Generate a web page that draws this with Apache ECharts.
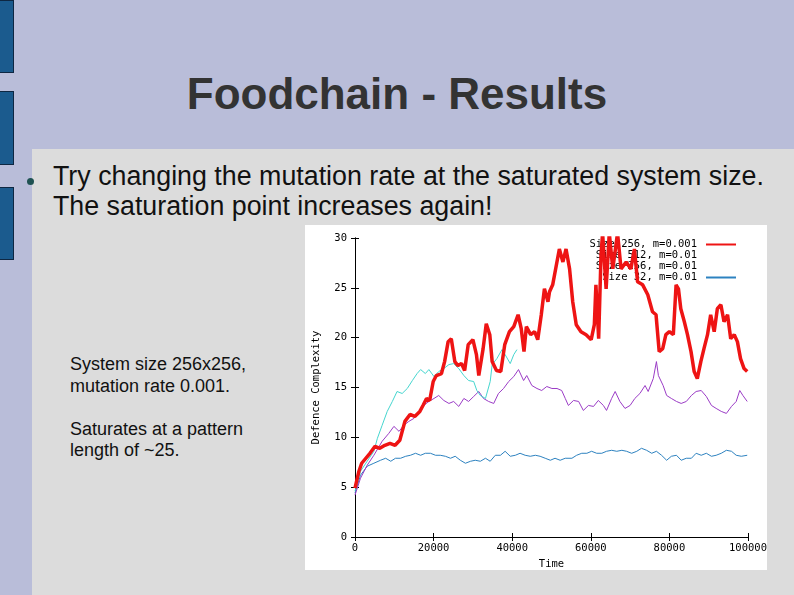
<!DOCTYPE html>
<html>
<head>
<meta charset="utf-8">
<script src="https://cdn.jsdelivr.net/npm/echarts@6/dist/echarts.min.js"></script>
<style>
  html, body { margin: 0; padding: 0; }
  body { width: 794px; height: 595px; background: #b9bdd9; position: relative; overflow: hidden;
         font-family: "Liberation Sans", Arial, sans-serif; }
  .bar { position: absolute; left: 0; width: 13px; background: #1b5b8e; border: 1px solid #0e2742; border-left: none; }
  #panel { position: absolute; left: 32px; top: 149px; right: 0; bottom: 0; background: #dcdcdc; }
  #title { position: absolute; left: 0; width: 794px; top: 72px; text-align: center;
           font-size: 44px; line-height: 44px; font-weight: bold; color: #333333; }
  #bullet { position: absolute; left: 27px; top: 178px; width: 7px; height: 7px; border-radius: 50%; background: #1f5252; }
  #lead { position: absolute; left: 53px; top: 161px; font-size: 26.8px; line-height: 30px; color: #111; white-space: nowrap; }
  #side { position: absolute; left: 70px; top: 354px; font-size: 18px; line-height: 21.5px; color: #111; }
  #chart { position: absolute; left: 305px; top: 225px; width: 462px; height: 345px; background: #fff; }
</style>
</head>
<body>
<div class="bar" style="top:0;height:71px"></div>
<div class="bar" style="top:91px;height:72px"></div>
<div class="bar" style="top:187px;height:71px"></div>
<div id="panel"></div>
<div id="title">Foodchain - Results</div>
<div id="bullet"></div>
<div id="lead">Try changing the mutation rate at the saturated system size.<br>The saturation point increases again!</div>
<div id="side">System size 256x256,<br>mutation rate 0.001.<br><br>Saturates at a pattern<br>length of ~25.</div>
<div id="chart"></div>
<script>
// time values are in thousands
var names = ['Size 256, m=0.001', 'Size 512, m=0.01', 'Size 256, m=0.01', 'Size 32, m=0.01'];
var colors = ['#ee1414', '#45d6cf', '#9b3cc6', '#2d82c0'];

var redTime = [0, 1, 1.7, 3.8, 5.1, 6.3, 7.6, 8.9, 10.2, 11.4, 12.7, 14.0, 15.2, 16.5, 17.3, 18.2, 19.0, 19.9,
  20.7, 22.0, 22.8, 23.7, 24.5, 25.4, 26.2, 27.1, 27.9, 28.8, 30.0, 30.9, 31.5, 32.6, 33.4, 34.3, 34.9, 36.0,
  37.1, 38.1, 39.3, 40.4, 41.5, 42.3, 43.0, 43.6, 44.7, 45.7, 46.5, 47.4, 48.2, 49.1, 49.5, 50.3, 50.8, 52.0,
  52.9, 53.7, 54.6, 55.4, 56.3, 57.5, 58.8, 60.1, 60.9, 61.3, 62.0, 62.6, 63.0, 63.9, 64.7, 65.6, 66.8, 67.7,
  69.0, 70.2, 71.1, 71.9, 73.2, 74.5, 75.7, 76.6, 77.4, 78.3, 79.1, 80.0, 81.0, 81.7, 82.3, 82.9, 83.8, 84.6,
  85.5, 86.3, 87.1, 88.0, 88.8, 89.7, 90.5, 91.4, 92.2, 93.1, 93.9, 94.8, 95.6, 96.5, 97.3, 98.1, 99.0, 99.8];
var redVal = [4.9, 6.6, 7.4, 8.4, 9.1, 8.9, 9.2, 9.4, 9.2, 9.7, 11.6, 12.3, 12.1, 12.6, 13.2, 13.9, 13.7, 15.6,
  16.2, 16.4, 17.6, 19.6, 19.9, 17.6, 17.2, 17.4, 16.7, 19.3, 19.8, 18.3, 16.2, 18.9, 21.4, 20.3, 17.6, 16.7,
  16.6, 19.3, 20.6, 21.1, 22.3, 20.9, 18.6, 21.1, 20.3, 20.6, 19.8, 22.3, 24.9, 23.6, 24.6, 25.3, 25.3, 28.9,
  27.6, 28.9, 26.9, 23.6, 21.3, 20.6, 20.3, 19.8, 21.3, 25.3, 19.9, 28.3, 30.5, 24.9, 30.5, 26.9, 30.5, 26.9,
  27.6, 26.9, 28.9, 25.6, 25.3, 24.3, 22.6, 22.3, 18.6, 18.9, 20.3, 20.6, 20.3, 25.3, 24.9, 22.9, 21.6, 20.3,
  18.6, 16.6, 15.9, 17.6, 18.9, 20.3, 22.3, 20.6, 22.9, 23.3, 21.6, 22.3, 19.9, 20.3, 19.6, 17.9, 16.9, 16.6];

var cyanTime = [0, 1.4, 3.1, 4.8, 5.7, 6.9, 8.2, 9.5, 10.7, 12.0, 13.3, 14.6, 15.8, 16.7, 17.9, 18.8, 20.1, 21.3,
  22.6, 23.9, 25.1, 26.4, 27.7, 28.9, 30.2, 31.0, 31.9, 33.2, 34.4, 34.9, 36.1, 37.4, 38.2, 39.5, 40.4, 41.2];
var cyanVal = [4.6, 6.6, 7.6, 8.6, 9.9, 11.2, 12.6, 13.6, 14.6, 14.4, 14.9, 15.7, 16.4, 16.8, 16.4, 16.8, 16.1, 16.6,
  16.9, 17.3, 17.4, 16.9, 16.2, 15.7, 15.6, 14.7, 14.2, 13.9, 15.6, 17.3, 17.9, 18.8, 18.3, 17.4, 18.3, 18.8];

var purpleTime = [0, 1.4, 3.1, 4.8, 6.9, 8.6, 9.9, 11.2, 12.4, 13.7, 15.0, 16.2, 17.5, 18.8, 20.1, 21.3, 22.6, 23.9,
  25.1, 26.4, 27.7, 28.9, 30.2, 31.5, 32.7, 34.0, 35.3, 36.5, 37.8, 39.1, 40.4, 41.6, 42.9, 43.7, 45.0, 46.3,
  47.5, 48.8, 50.1, 51.4, 52.6, 53.5, 54.3, 55.6, 56.9, 58.1, 59.4, 60.7, 61.9, 63.2, 64.0, 65.3, 66.2, 67.4,
  68.7, 70.0, 71.2, 72.5, 73.8, 74.6, 75.9, 76.7, 77.2, 78.4, 79.3, 80.5, 81.8, 83.0, 84.3, 85.6, 86.8, 88.1,
  89.4, 90.7, 91.9, 93.2, 94.5, 95.8, 97.0, 97.9, 98.7, 99.8];
var purpleVal = [4.2, 5.9, 7.2, 8.2, 9.6, 10.4, 11.1, 10.6, 11.2, 11.6, 11.9, 12.6, 13.2, 13.6, 13.9, 14.2, 13.7, 13.4,
  13.6, 13.1, 13.9, 13.6, 14.1, 14.6, 13.9, 13.6, 13.4, 14.4, 14.9, 15.6, 16.1, 16.8, 15.7, 16.2, 15.2, 14.9,
  14.7, 15.1, 14.9, 14.9, 14.7, 13.9, 13.2, 13.7, 13.6, 12.7, 13.2, 13.1, 13.7, 13.2, 12.7, 13.9, 14.6, 13.6,
  12.9, 13.2, 13.9, 14.4, 15.2, 14.6, 15.9, 17.6, 16.2, 15.2, 14.2, 13.9, 13.6, 13.4, 13.6, 14.2, 14.6, 14.7,
  14.1, 13.2, 12.9, 12.6, 12.4, 13.1, 13.6, 14.7, 14.2, 13.6];

var blueTime = [0, 1.4, 3.1, 4.8, 6.5, 7.8, 9.1, 10.3, 11.6, 12.9, 14.1, 15.4, 16.7, 17.9, 19.2, 20.5, 21.7, 23.0,
  24.3, 25.5, 26.8, 28.1, 29.4, 30.6, 31.9, 33.2, 34.4, 35.7, 37.0, 38.2, 39.5, 40.8, 42.0, 43.3, 44.6, 45.9,
  47.1, 48.4, 49.7, 50.9, 52.2, 53.5, 55.2, 56.4, 57.7, 59.0, 60.2, 61.5, 62.8, 64.0, 65.3, 66.6, 67.9, 69.1,
  70.4, 71.7, 72.9, 74.2, 75.5, 76.7, 78.0, 79.3, 80.5, 81.8, 83.0, 84.3, 85.6, 86.8, 88.1, 89.4, 90.7, 91.9,
  93.2, 94.5, 95.8, 97.0, 98.3, 99.8];
var blueVal = [4.4, 6.2, 7.1, 7.4, 7.7, 7.9, 7.6, 7.9, 7.9, 8.1, 8.2, 8.4, 8.2, 8.4, 8.4, 8.2, 8.2, 8.1,
  7.9, 8.1, 7.7, 7.4, 7.6, 7.7, 7.6, 7.9, 7.6, 8.2, 8.2, 8.6, 8.1, 8.2, 8.4, 8.2, 8.1, 8.2,
  8.1, 7.9, 7.7, 7.9, 7.7, 7.9, 7.9, 8.2, 8.4, 8.4, 8.6, 8.4, 8.4, 8.6, 8.7, 8.6, 8.7, 8.6,
  8.4, 8.6, 8.9, 8.7, 8.4, 8.6, 8.2, 7.7, 8.1, 8.2, 7.7, 7.9, 7.9, 8.4, 8.2, 8.4, 8.1, 8.2,
  8.4, 8.7, 8.6, 8.2, 8.1, 8.2];

var xTicks = { min: 0, max: 100000, interval: 20000 };
var yTicks = { min: 0, max: 30, interval: 5 };

function pairs(t, v) {
  return t.map(function (x, i) { return [x * 1000, v[i]]; });
}

var seriesData = [pairs(redTime, redVal), pairs(cyanTime, cyanVal), pairs(purpleTime, purpleVal), pairs(blueTime, blueVal)];
var widths = [3.5, 1, 1, 1];

var mono = 'DejaVu Sans Mono';
var tickStyle = { show: true, inside: true, length: 4, lineStyle: { color: '#000' } };
var lineStyle = { show: true, lineStyle: { color: '#000', width: 1 } };

var chart = echarts.init(document.getElementById('chart'));
chart.setOption({
  animation: false,
  backgroundColor: '#fff',
  grid: { left: 50, right: 19, top: 13, bottom: 33, outerBoundsMode: 'none', containLabel: false },
  legend: {
    orient: 'vertical',
    right: 30,
    top: 14,
    padding: 0,
    align: 'right',
    itemWidth: 30,
    itemHeight: 11,
    itemGap: 0,
    itemStyle: { opacity: 0 },
    textStyle: { fontFamily: mono, fontSize: 10.5, color: '#000', lineHeight: 11, padding: [0, 4, 0, 0] },
    data: [
      { name: names[0] },
      { name: names[1], lineStyle: { opacity: 0 } },
      { name: names[2], lineStyle: { opacity: 0 } },
      { name: names[3] }
    ]
  },
  xAxis: [{
    type: 'value', min: xTicks.min, max: xTicks.max, interval: xTicks.interval,
    name: 'Time', nameLocation: 'middle', nameGap: 22,
    nameTextStyle: { fontFamily: mono, fontSize: 10.5, color: '#000' },
    axisLine: lineStyle, axisTick: tickStyle, splitLine: { show: false },
    axisLabel: { fontFamily: mono, fontSize: 10.5, color: '#000', margin: 6,
      formatter: function (v) { return String(v); } }
  }, {
    type: 'value', position: 'top', min: xTicks.min, max: xTicks.max, interval: xTicks.interval,
    axisLine: lineStyle, axisTick: tickStyle, splitLine: { show: false }, axisLabel: { show: false }
  }],
  yAxis: [{
    type: 'value', min: yTicks.min, max: yTicks.max, interval: yTicks.interval,
    name: 'Defence Complexity', nameLocation: 'middle', nameGap: 33,
    nameTextStyle: { fontFamily: mono, fontSize: 10.5, color: '#000' },
    axisLine: lineStyle, axisTick: tickStyle, splitLine: { show: false },
    axisLabel: { fontFamily: mono, fontSize: 10.5, color: '#000', margin: 8 }
  }, {
    type: 'value', position: 'right', min: yTicks.min, max: yTicks.max, interval: yTicks.interval,
    axisLine: lineStyle, axisTick: tickStyle, splitLine: { show: false }, axisLabel: { show: false }
  }],
  series: names.map(function (n, i) {
    return {
      name: n, type: 'line', data: seriesData[i], showSymbol: false, symbol: 'none',
      clip: true, z: 10 - i,
      itemStyle: { color: colors[i] },
      lineStyle: { color: colors[i], width: widths[i] }
    };
  })
});
</script>
</body>
</html>
